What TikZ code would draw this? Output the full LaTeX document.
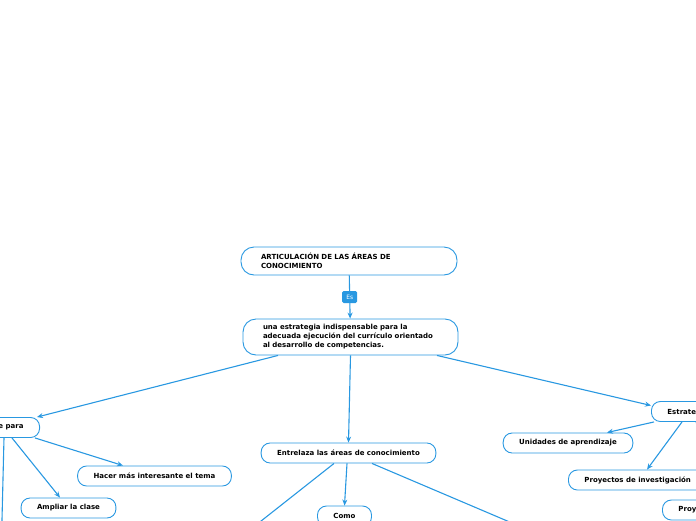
\documentclass[tikz,border=0pt]{standalone}
\usepackage{fontspec}
\setmainfont{DejaVu Sans}
\usepackage{xcolor}
\usepackage{tikz}
\usetikzlibrary{arrows.meta,positioning}
\definecolor{mmBlue}{RGB}{41,152,225}

\begin{document}
\begin{tikzpicture}[
    x=1pt, y=-1pt,
    font=\fontsize{7}{9}\selectfont\bfseries,
    topicBox/.style={
        rectangle, rounded corners=9pt, draw=mmBlue, line width=0.9pt,
        fill=white, inner xsep=16pt, inner ysep=2pt, minimum height=20pt
    },
    mainBox/.style={
        rectangle, rounded corners=13pt, draw=mmBlue, line width=0.9pt,
        fill=white, inner xsep=20pt, inner ysep=3pt, align=left
    },
    linkTag/.style={
        rectangle, rounded corners=1.5pt, fill=mmBlue, text=white,
        font=\fontsize{6}{7}\selectfont\mdseries, inner sep=0pt,
        minimum width=15pt, minimum height=12pt
    },
    linkArrow/.style={
        -{Stealth[length=6pt, width=5pt]}, line width=1.1pt, draw=mmBlue
    }
]

\useasboundingbox (0,0) rectangle (696,520);
\clip (0,0) rectangle (696,520);

% Center: main topic
\node[mainBox, text width=176pt, minimum height=28pt] (articulacion) at (349,261) {
    ARTICULACIÓN DE LAS ÁREAS DE\\
    CONOCIMIENTO
};

\node[mainBox, text width=175pt, minimum height=36pt] (estrategia) at (350.5,337) {
    una estrategia indispensable para la\\
    adecuada ejecución del currículo orientado\\
    al desarrollo de competencias.
};

% Left branch
\node[topicBox, anchor=east] (para) at (40,427.5) {e para};
\node[topicBox] (hacer) at (154.5,476) {Hacer más interesante el tema};
\node[topicBox] (ampliar) at (68.5,508) {Ampliar la clase};

% Middle branch
\node[topicBox] (entrelaza) at (348.5,453) {Entrelaza las áreas de conocimiento};
\node[topicBox] (como) at (344.5,516) {Como};

% Right branch
\node[topicBox, anchor=west] (estrategias) at (651,411.5) {Estrate};
\node[topicBox] (unidades) at (568,443) {Unidades de aprendizaje};
\node[topicBox, anchor=west] (proyectos) at (568,480) {Proyectos de investigación};
\node[topicBox, anchor=west] (proy) at (662,510) {Proy};

% Off-picture ends
\coordinate (paraDown) at (1.5,540);
\coordinate (entreLeft) at (237,540);
\coordinate (entreRight) at (552,540);
\coordinate (estratRight) at (730,500);

% Flows
\draw[linkArrow] (articulacion) -- node[linkTag] {Es} (estrategia);

\draw[linkArrow] ([xshift=-72.5pt]estrategia.south) -- ([xshift=-3pt]para.north east);
\draw[linkArrow] (estrategia.south) -- (entrelaza.north);
\draw[linkArrow] ([xshift=86.5pt]estrategia.south) -- ([yshift=6pt]estrategias.west);

\draw[linkArrow] ([xshift=-36pt]para.south east) -- (paraDown);
\draw[linkArrow] ([xshift=-28pt]para.south east) -- ([xshift=-8.5pt]ampliar.north);
\draw[linkArrow] ([xshift=-5pt]para.south east) -- ([xshift=-31.5pt]hacer.north);

\draw[linkArrow] ([xshift=-14.5pt]entrelaza.south) -- (entreLeft);
\draw[linkArrow] ([xshift=-1.5pt]entrelaza.south) -- (como.north);
\draw[linkArrow] ([xshift=23.5pt]entrelaza.south) -- (entreRight);

\draw[linkArrow] ([xshift=3pt]estrategias.south west) -- ([xshift=39pt]unidades.north);
\draw[linkArrow] ([xshift=31pt]estrategias.south west) -- ([xshift=79pt]proyectos.north west);
\draw[linkArrow] ([xshift=45pt]estrategias.south west) -- (estratRight);

\end{tikzpicture}
\end{document}
